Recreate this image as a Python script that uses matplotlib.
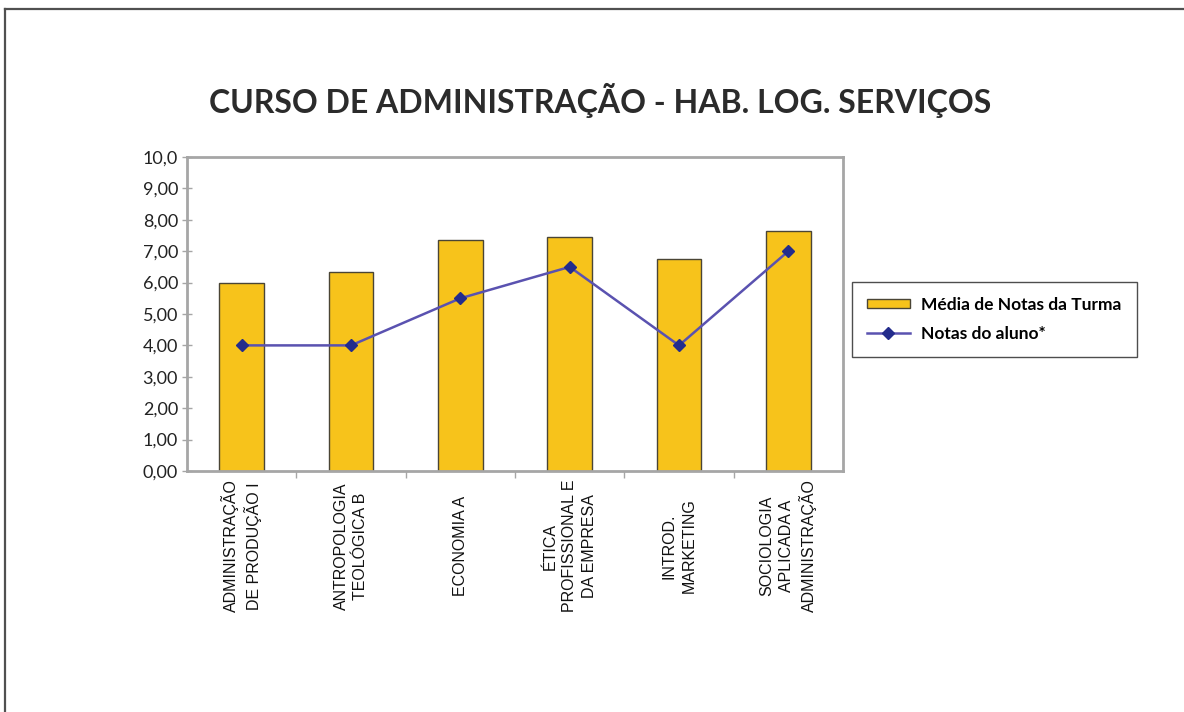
import matplotlib
matplotlib.use("Agg")
import matplotlib.pyplot as plt
from matplotlib.lines import Line2D
from matplotlib.patches import Patch
from matplotlib.transforms import blended_transform_factory

categories = ["ADMINISTRAÇÃO\nDE PRODUÇÃO I", "ANTROPOLOGIA\nTEOLÓGICA B", "ECONOMIA A",
              "ÉTICA\nPROFISSIONAL E\nDA EMPRESA", "INTROD.\nMARKETING",
              "SOCIOLOGIA\nAPLICADA A\nADMINISTRAÇÃO"]
media_turma = [6.0, 6.35, 7.35, 7.45, 6.75, 7.65]
notas_aluno = [4.0, 4.0, 5.5, 6.5, 4.0, 7.0]
yticks = [0, 1, 2, 3, 4, 5, 6, 7, 8, 9, 10]
ytick_labels = ["0,00", "1,00", "2,00", "3,00", "4,00", "5,00", "6,00", "7,00", "8,00", "9,00", "10,0"]

W, H = 1184, 712
fig = plt.figure(figsize=(W / 100, H / 100), dpi=100)
fig.patch.set_facecolor("white")

# outer frame (left and top edges)
fig.add_artist(Line2D([5 / W, 5 / W], [0, 1 - 9 / H], transform=fig.transFigure, color="#505050", lw=1.6))
fig.add_artist(Line2D([5 / W, 1], [1 - 9 / H, 1 - 9 / H], transform=fig.transFigure, color="#505050", lw=1.6))

ax = fig.add_axes([187 / W, 1 - 471 / H, (843 - 187) / W, (471 - 157) / H])
x = list(range(len(categories)))
ax.bar(x, media_turma, width=0.41, color="#F7C31B", edgecolor="#4a4535", linewidth=1.0, zorder=2,
       label="Média de Notas da Turma")
ax.plot(x, notas_aluno, color="#5a52b0", lw=1.8, marker="D", markersize=6.5,
        markerfacecolor="#232c8c", markeredgecolor="#232c8c", zorder=3, label="Notas do aluno*")

ax.set_xlim(-0.5, len(categories) - 0.5)
ax.set_ylim(0, 10)
ax.set_yticks(yticks)
ax.set_yticklabels(ytick_labels, fontfamily="Lato", fontsize=13, color="#222222")
ax.set_xticks([i + 0.5 for i in range(len(categories) - 1)])
ax.set_xticklabels([])
ax.tick_params(axis="y", direction="inout", length=7, width=1, color="#a6a6a6", pad=3)
ax.tick_params(axis="x", direction="out", length=5, width=1, color="#a6a6a6")
for s in ax.spines.values():
    s.set_color("#a6a6a6")
    s.set_linewidth(2)

trans = blended_transform_factory(ax.transData, fig.transFigure)
for i, lab in enumerate(categories):
    ax.text(i, 1 - 546 / H, lab, transform=trans, rotation=90, ha="center", va="center",
            multialignment="center", fontfamily="Liberation Sans", fontsize=11.5,
            linespacing=1.38, color="#111111")

fig.text(600 / W, 1 - 100 / H, "CURSO DE ADMINISTRAÇÃO - HAB. LOG. SERVIÇOS", ha="center", va="center",
         fontfamily="Lato", fontweight="bold", fontsize=23, color="#2b2b2b")

handles = [Patch(facecolor="#F7C31B", edgecolor="#4a4535", linewidth=1.0),
           Line2D([], [], color="#5a52b0", lw=1.8, marker="D", markersize=6.5,
                  markerfacecolor="#232c8c", markeredgecolor="#232c8c")]
leg = fig.legend(handles, ["Média de Notas da Turma", "Notas do aluno*"],
                 loc="upper left", bbox_to_anchor=(852 / W, 1 - 282 / H),
                 frameon=True, fancybox=False, edgecolor="#222222",
                 prop={"family": "Lato", "weight": "bold", "size": 12.5},
                 handlelength=2.5, handleheight=0.45, handletextpad=0.65, borderpad=0.85,
                 labelspacing=0.75, borderaxespad=0)
leg.get_frame().set_linewidth(1.0)

fig.savefig("out.png", dpi=100, facecolor="white")
